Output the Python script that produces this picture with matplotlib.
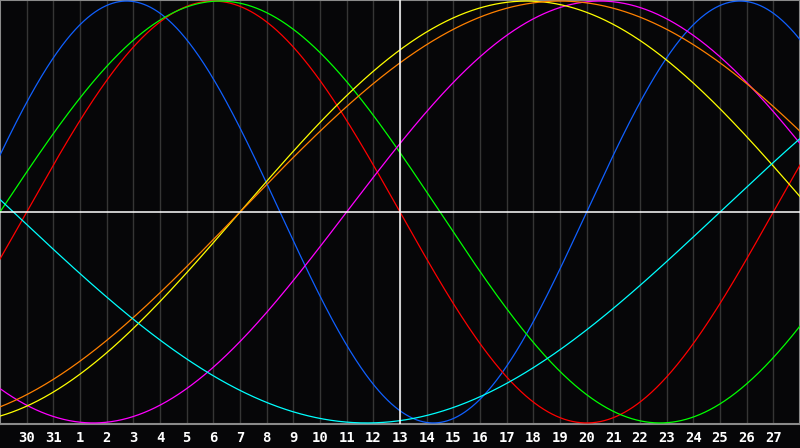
import numpy as np
import matplotlib
matplotlib.use("Agg")
import matplotlib.pyplot as plt

# biorhythm cycles (days) and their colours
periods = [23, 28, 33, 38, 43, 48, 53]
colors = ["#1060ff", "#ff0000", "#00ff00", "#ff00ff", "#ffff00", "#ff8000", "#00ffff"]
# days since birth on the centre day (13)
age_at_center = 12390
center_index = 15
day_labels = ["30", "31"] + [str(d) for d in range(1, 28)]

n_slots = 30
bg = "#060608"

fig = plt.figure(figsize=(8, 4.48), dpi=100, facecolor=bg)
ax = fig.add_axes([0, 24 / 448, 1, 424 / 448], facecolor=bg)

t = np.linspace(0, n_slots, 1600)
for p, c in zip(periods, colors):
    days = age_at_center + (t - center_index)
    ax.plot(t, np.sin(2 * np.pi * days / p), color=c, lw=0.9, zorder=3)

for i in range(1, n_slots):
    ax.axvline(i, color="#353535", lw=1, zorder=1)
ax.axhline(0, color="white", lw=1.1, zorder=4)
ax.axvline(center_index, color="white", lw=1.1, zorder=4)

ax.set_xlim(0, n_slots)
ax.set_ylim(-1.005, 1.005)
ax.set_xticks([])
ax.set_yticks([])
for s in ax.spines.values():
    s.set_color("#8a8a8a")
    s.set_linewidth(1.5)

for i, lab in enumerate(day_labels, start=1):
    fig.text(i / n_slots, 10 / 448, lab, color="white", ha="center", va="center",
             fontsize=10, fontweight="bold", family="DejaVu Sans Mono")

fig.savefig("out.png", dpi=100, facecolor=bg)
